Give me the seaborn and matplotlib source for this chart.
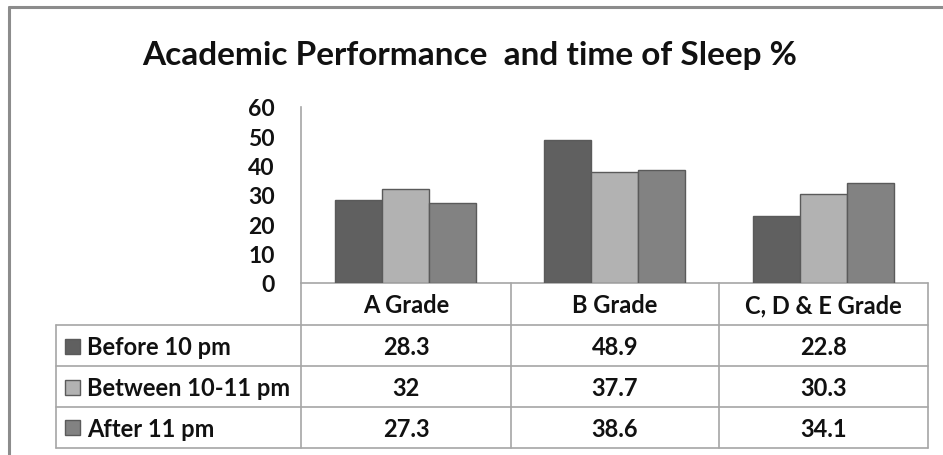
import matplotlib
matplotlib.use("Agg")
import matplotlib.pyplot as plt
from matplotlib.patches import Rectangle
from matplotlib.lines import Line2D
import seaborn as sns
import pandas as pd

# Data
grades = ["A Grade", "B Grade", "C, D & E Grade"]
series = ["Before 10 pm", "Between 10-11 pm", "After 11 pm"]
before_10 = [28.3, 48.9, 22.8]
between_10_11 = [32, 37.7, 30.3]
after_11 = [27.3, 38.6, 34.1]
value_labels = [["28.3", "48.9", "22.8"], ["32", "37.7", "30.3"], ["27.3", "38.6", "34.1"]]
y_ticks = [0, 10, 20, 30, 40, 50, 60]
title = "Academic Performance  and time of Sleep %"

colors = ["#606060", "#b2b2b2", "#828282"]
edge = "#5a5a5a"
grid_col = "#a6a6a6"
FONT = "Lato"

df = pd.DataFrame({
    "grade": grades * 3,
    "series": [series[0]] * 3 + [series[1]] * 3 + [series[2]] * 3,
    "value": before_10 + between_10_11 + after_11,
})

sns.set_theme(style="white")
plt.rcParams["font.family"] = [FONT, "DejaVu Sans"]

W, H = 943, 456
fig = plt.figure(figsize=(W / 100, H / 100), dpi=100)
fig.patch.set_facecolor("white")

# pixel-space overlay for frame, title and data table
ov = fig.add_axes([0, 0, 1, 1])
ov.set_xlim(0, W)
ov.set_ylim(H, 0)
ov.axis("off")

# chart area frame
ov.add_line(Line2D([9, 9], [8, H + 5], color="#8c8c8c", lw=2.2))
ov.add_line(Line2D([9, W + 5], [8, 8], color="#8c8c8c", lw=2.2))

ov.text(470, 55, title, ha="center", va="center", fontsize=24,
        fontweight="bold", color="#111111")

# plot area
x0, x1, ytop, ybot = 301, 928, 108, 284
ax = fig.add_axes([x0 / W, 1 - ybot / H, (x1 - x0) / W, (ybot - ytop) / H])
sns.barplot(data=df, x="grade", y="value", hue="series", order=grades,
            hue_order=series, palette=colors, width=0.67, gap=0,
            edgecolor=edge, linewidth=1.0, saturation=1, ax=ax, legend=False)
ax.set_ylim(0, 60)
ax.set_yticks(y_ticks)
ax.set_yticklabels([str(t) for t in y_ticks], fontsize=16.5, fontweight="bold",
                   color="#111111")
ax.tick_params(axis="y", length=0, pad=19)
ax.set_xticks([])
ax.set_xlabel("")
ax.set_ylabel("")
ax.set_xlim(-0.5, 2.5)
for s in ["top", "right", "bottom"]:
    ax.spines[s].set_visible(False)
ax.spines["left"].set_color(grid_col)
ax.spines["left"].set_linewidth(1.2)
ax.patch.set_alpha(0)

# data table below the plot
col_edges = [301, 511, 719, 928]
row_edges = [284, 326, 367, 408, 449]
tl = 56
lkw = dict(color=grid_col, lw=1.2)
ov.add_line(Line2D([x0, x1], [row_edges[0]] * 2, **lkw))
for r in row_edges[1:]:
    ov.add_line(Line2D([tl, x1], [r, r], **lkw))
for c in col_edges:
    ov.add_line(Line2D([c, c], [row_edges[0], row_edges[-1]], **lkw))
ov.add_line(Line2D([tl, tl], [row_edges[1], row_edges[-1]], **lkw))

tkw = dict(ha="center", va="center", fontsize=17, fontweight="bold", color="#111111")
for j, g in enumerate(grades):
    cx = (col_edges[j] + col_edges[j + 1]) / 2
    ov.text(cx, (row_edges[0] + row_edges[1]) / 2 + 1, g, **tkw)
for i, name in enumerate(series):
    cy = (row_edges[i + 1] + row_edges[i + 2]) / 2 + 1
    ov.add_patch(Rectangle((65, cy - 8), 15, 15, facecolor=colors[i],
                           edgecolor=edge, lw=1.0))
    ov.text(87, cy, name, ha="left", va="center", fontsize=17,
            fontweight="bold", color="#111111")
    for j in range(len(grades)):
        cx = (col_edges[j] + col_edges[j + 1]) / 2
        ov.text(cx, cy, value_labels[i][j], **tkw)

fig.savefig("out.png", dpi=100, facecolor="white")
